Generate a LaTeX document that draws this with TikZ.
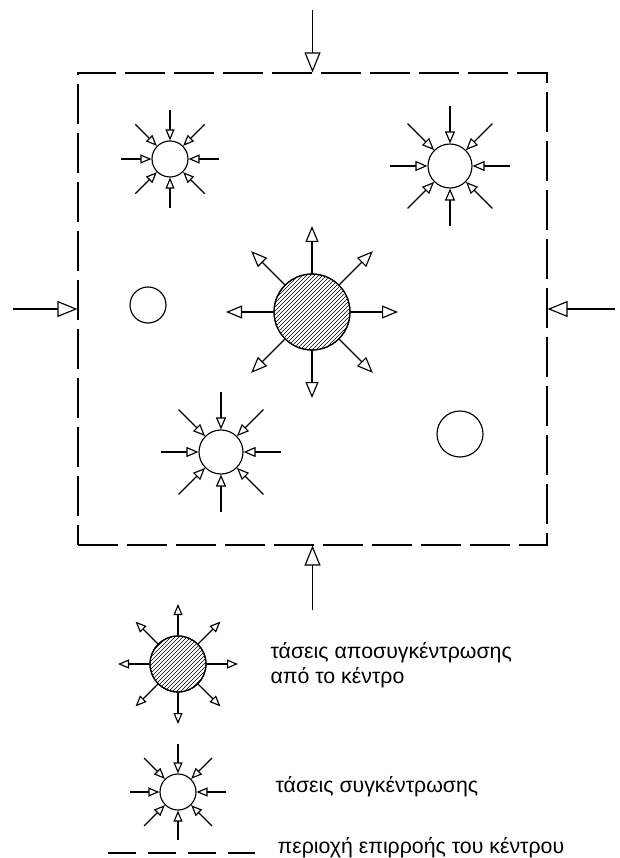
\documentclass[tikz,border=0pt]{standalone}
\usepackage{fontspec}
\setmainfont{Liberation Sans}
\usetikzlibrary{arrows.meta,calc}
\begin{document}
\begin{tikzpicture}[x=1pt,y=1pt,line width=1.15pt,
  circ/.style={draw,circle,inner sep=0pt,minimum size=#1},
  tipS/.style={-{Triangle[open,length=11pt,width=9pt]}},
  tipM/.style={-{Triangle[open,length=12pt,width=10pt]}},
  tipL/.style={-{Triangle[open,length=16pt,width=13pt]}},
  tipF/.style={-{Triangle[open,length=20pt,width=16pt]}},
  frm/.style={draw,dash pattern=on 40pt off 9pt,inner sep=0pt},
  hatch/.style={line width=0.6pt},
  lbl/.style={font=\fontsize{21.3}{25}\selectfont,anchor=west,align=left,inner sep=0pt}]
\useasboundingbox (0,0) rectangle (619,-858);

% influence frame
\node[frm,minimum width=469pt,minimum height=472pt] (frame) at (312.5,-309) {};
\coordinate (ft) at (312.5,-10);
\coordinate (fb) at (312.5,-610);
\coordinate (fl) at (13,-309);
\coordinate (fr) at (615,-309);
\draw[tipF] (ft) -- (frame.north);
\draw[tipF] (fb) -- (frame.south);
\draw[tipF] (fl) -- (frame.west);
\draw[tipF] (fr) -- (frame.east);

% concentration circles
\node[circ=36pt] (c1) at (170,-159) {};
\node[circ=44pt] (c2) at (450,-166) {};
\node[circ=44pt] (c3) at (221,-452) {};
\foreach \a in {0,45,...,315}{
  \coordinate (c1o\a) at ($(c1)+(\a:49)$);
  \draw[tipS] (c1o\a) -- (c1.\a);
  \coordinate (c2o\a) at ($(c2)+(\a:60)$);
  \draw[tipM] (c2o\a) -- (c2.\a);
  \coordinate (c3o\a) at ($(c3)+(\a:60)$);
  \draw[tipM] (c3o\a) -- (c3.\a);
}

% plain circles
\node[circ=36pt] (p1) at (148,-305) {};
\node[circ=46pt] (p2) at (460,-434) {};

% central hatched circle
\node[circ=76pt] (h1) at (312,-312) {};
\begin{scope}
  \clip (h1) circle (38);
  \foreach \i in {-90,-86,...,90}
    \draw[hatch] ($(h1)+(\i-45,-45)$) -- ++(90,90);
\end{scope}
\node[circ=76pt] at (h1) {};
\foreach \a in {0,45,...,315}{
  \coordinate (h1o\a) at ($(h1)+(\a:86)$);
  \draw[tipL] (h1.\a) -- (h1o\a);
}

% legend: decentralisation
\node[circ=56pt] (lh) at (178,-664) {};
\begin{scope}
  \clip (lh) circle (28);
  \foreach \i in {-70,-66,...,70}
    \draw[hatch] ($(lh)+(\i-35,-35)$) -- ++(70,70);
\end{scope}
\node[circ=56pt] at (lh) {};
\foreach \a in {0,45,...,315}{
  \coordinate (lho\a) at ($(lh)+(\a:60)$);
  \draw[tipS] (lh.\a) -- (lho\a);
}
\node[lbl] (t1) at (270,-665) {τάσεις αποσυγκέντρωσης\\από το κέντρο};

% legend: concentration
\node[circ=36pt] (lc) at (178,-792) {};
\foreach \a in {0,45,...,315}{
  \coordinate (lco\a) at ($(lc)+(\a:48)$);
  \draw[tipS] (lco\a) -- (lc.\a);
}
\node[lbl] (t2) at (275,-787) {τάσεις συγκέντρωσης};

% legend: influence area
\coordinate (ld1) at (108,-853);
\coordinate (ld2) at (255,-853);
\draw[dash pattern=on 28pt off 12pt] (ld1) -- (ld2);
\node[lbl] (t3) at (277,-848) {περιοχή επιρροής του κέντρου};
\end{tikzpicture}
\end{document}
